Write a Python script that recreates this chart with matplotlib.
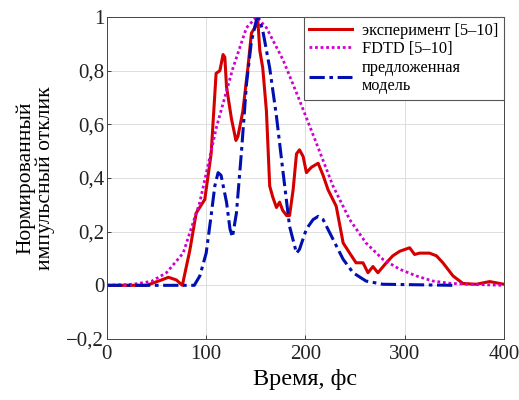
import matplotlib
matplotlib.use("Agg")
import matplotlib.pyplot as plt
from matplotlib.ticker import FuncFormatter

plt.rcParams['font.family'] = ['Liberation Serif', 'DejaVu Serif']

# Experiment [5-10]
exp_t = [0, 40, 55, 62, 70, 76, 83.5, 90, 98.6, 105, 110, 113.8, 117, 118.8, 120.5, 125.5, 130, 132,
         137, 142, 145.6, 149, 152, 154, 157, 160.7, 164, 167, 170.8, 174, 177, 181, 184, 187.6, 191,
         194, 197.7, 201, 206, 212.8, 217.8, 222.8, 231, 238, 244.6, 251, 258, 263, 268, 273, 281.5,
         288, 295, 305, 310, 315, 325, 332, 338.5, 348.7, 358.7, 372, 385.6, 400]
exp_v = [0, 0, 0.02, 0.03, 0.02, 0.0, 0.13, 0.27, 0.32, 0.49, 0.79, 0.80, 0.86, 0.85, 0.74, 0.62, 0.54, 0.555,
         0.65, 0.81, 0.94, 0.96, 0.99, 0.876, 0.81, 0.65, 0.37, 0.33, 0.29, 0.31, 0.28, 0.26, 0.26, 0.356, 0.49,
         0.505, 0.48, 0.42, 0.44, 0.455, 0.41, 0.356, 0.295, 0.158, 0.12, 0.084, 0.084, 0.047, 0.07, 0.047, 0.084,
         0.11, 0.127, 0.14, 0.115, 0.12, 0.12, 0.11, 0.084, 0.035, 0.007, 0.004, 0.014, 0.004]

# FDTD [5-10]
fdtd_t = [0, 26.5, 45, 60, 76.8, 93.6, 110.4, 127, 140.6, 150.7, 160.7, 177.5, 194, 211, 227.8, 244.6,
          261, 278, 295, 311.7, 328.5, 345, 362, 400]
fdtd_v = [0, 0.004, 0.015, 0.047, 0.12, 0.31, 0.59, 0.81, 0.96, 1.0, 0.96, 0.84, 0.69, 0.53, 0.37, 0.245,
          0.158, 0.097, 0.06, 0.035, 0.016, 0.008, 0.004, 0]

# Proposed model
mod_t = [0, 88, 93.6, 100, 105, 108.7, 112, 115, 120.5, 124, 126.5, 130.5, 135.6, 140.6, 145.6, 150.7,
         153, 157, 164, 170.8, 177.5, 184, 191, 194, 201, 207.7, 212.8, 217.8, 228, 238, 248, 261, 278, 350]
mod_v = [0, 0, 0.035, 0.12, 0.26, 0.37, 0.42, 0.41, 0.31, 0.21, 0.18, 0.27, 0.50, 0.75, 0.91, 0.99,
         0.995, 0.95, 0.81, 0.63, 0.42, 0.22, 0.12, 0.134, 0.21, 0.245, 0.257, 0.245, 0.17, 0.097, 0.047,
         0.016, 0.004, 0]

fig = plt.figure(figsize=(5.19, 4.0), dpi=100)
ax = fig.add_axes([0.206, 0.1525, 0.765, 0.805])

ax.plot(exp_t, exp_v, color='#d40000', lw=2.2, label='эксперимент [5–10]')
ax.plot(fdtd_t, fdtd_v, color='#d000d0', lw=2.0, linestyle=(0, (1, 1)), label='FDTD [5–10]')
ax.plot(mod_t, mod_v, color='#0010b0', lw=2.2, linestyle=(0, (5, 1.5, 1.2, 1.5)),
        label='предложенная\nмодель')

ax.set_xlim(0, 400)
ax.set_ylim(-0.2, 1.0)
ax.set_xticks([0, 100, 200, 300, 400])
ax.set_yticks([-0.2, 0, 0.2, 0.4, 0.6, 0.8, 1.0])

def yfmt(v, pos):
    s = ('%g' % round(v, 2)).replace('.', ',').replace('-', '−')
    return s
ax.yaxis.set_major_formatter(FuncFormatter(yfmt))
ax.tick_params(direction='in', labelsize=15, length=3, width=0.6, colors='#222222', pad=2)
ax.tick_params(axis='x', pad=4)
ax.grid(True, color='#dddddd', lw=0.7)
for s in ax.spines.values():
    s.set_linewidth(0.7)
    s.set_color('#444444')

ax.set_xlabel('Время, фс', fontsize=17.5, labelpad=4)
ax.set_ylabel('Нормированный\nимпульсный отклик', fontsize=15.5, linespacing=1.0, labelpad=8)

leg = ax.legend(loc='upper right', fontsize=11.8, frameon=True, fancybox=False,
                borderaxespad=0, handlelength=2.6, labelspacing=0.15, handletextpad=0.6,
                borderpad=0.35, framealpha=1)
leg.get_frame().set_edgecolor('#555555')
leg.get_frame().set_linewidth(0.8)

fig.savefig('out.png', dpi=100)
